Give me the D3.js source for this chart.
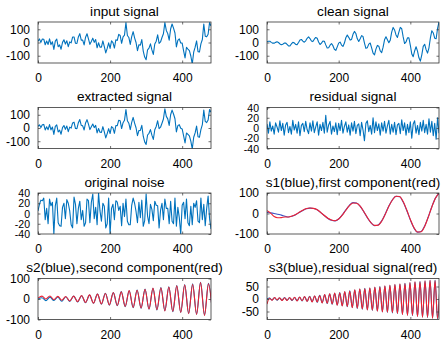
<!DOCTYPE html>
<html><head><meta charset="utf-8">
<script src="https://cdn.jsdelivr.net/npm/d3@7"></script>
<style>body{margin:0;background:#fff;} svg text{font-family:"Liberation Sans",Arial,Helvetica,sans-serif;fill:#000;}</style>
</head><body><svg id="chart" width="441" height="347"></svg>
<script>
// ---------- data ----------
const xTicks = [0, 200, 400];
const xDomain = [0, 480];

// step 4 samples (x = 0..480)
const inputSignal = [
 10, 27, 1, 26, 25, -17, 11, -15, 28, -16,
 5, -53, 10, 26, -32, -18, -51, 1, 21, -12,
 13, -31, 5, -3, 41, 42, -6, -7, 42, 67,
 18, 18, -18, 40, 66, 27, -14, 7, 33, 1,
 22, -40, -2, -35, -35, 12, -32, -79, -45, -3,
 -45, 13, -1, -42, 21, 16, 62, 53, -6, 43,
 56, 150, 53, 38, -14, 44, 82, 35, 0, -62,
 -17, -20, 22, -65, -110, -130, -55, -42, -10, -56,
 -90, -11, 10, 58, -7, 4, 38, 66, 150, 91,
 67, 18, 102, 140, 109, 72, -33, 16, 27, -4,
 -5, -64, -117, -36, -50, -61, -102, -163, -73, -35,
 12, -69, -72, -10, 23, 140, 48, 43, 62, 150,
 125];

const cleanSignal = [
 5, 9, 9, 1, -5, -5, 1, 5, 0, -11,
 -17, -13, -5, -4, -14, -26, -26, -11, 1, -2,
 -14, -16, 0, 19, 23, 10, 2, 13, 32, 43,
 30, 12, 7, 25, 38, 32, 4, -15, -5, 11,
 10, -18, -42, -40, -20, -8, -24, -51, -60, -33,
 -5, 3, -19, -30, -4, 36, 56, 39, 18, 23,
 62, 84, 68, 28, 8, 28, 52, 45, -4, -44,
 -39, -12, -4, -40, -80, -93, -50, -22, -28, -64,
 -76, -35, 20, 43, 21, -2, 18, 78, 114, 95,
 57, 38, 78, 114, 104, 42, -8, 4, 35, 36,
 -21, -86, -107, -64, -32, -65, -116, -141, -93, -29,
 -13, -54, -80, -40, 35, 89, 72, 33, 28, 106,
 155];

const extractedSignal = [
 12, 24, 3, 24, 27, -15, 9, -13, 26, -14,
 7, -48, 12, 24, -30, -16, -47, 3, 19, -10,
 15, -28, 7, -1, 38, 44, -4, -5, 40, 64,
 20, 16, -15, 38, 63, 29, -12, 9, 30, 3,
 20, -37, -4, -32, -33, 10, -30, -75, -42, -5,
 -42, 11, 1, -40, 19, 18, 59, 55, -4, 40,
 58, 140, 55, 36, -12, 42, 80, 37, 2, -58,
 -19, -18, 20, -62, -105, -125, -53, -40, -12, -54,
 -86, -13, 12, 55, -5, 6, 36, 68, 145, 88,
 69, 20, 100, 135, 106, 70, -30, 18, 25, -2,
 -7, -60, -113, -38, -48, -59, -100, -158, -70, -37,
 14, -66, -70, -12, 25, 135, 50, 41, 60, 140,
 120];

const residualSignal = [
 8, -10, 12, -6, 4, -12, 10, 2, -8, 14,
 -5, 9, -14, 6, 11, -9, 3, -12, 15, -4,
 7, -10, 12, -15, 5, 9, -7, 13, -3, -11,
 10, -6, 14, -9, 2, 12, -14, 7, -5, 11,
 -10, 25, -8, 6, 13, -12, 4, -7, 10, -13,
 9, -5, 15, -10, 3, 12, -8, 6, -14, 10,
 -6, 13, -11, 5, 8, -15, 11, -4, -25, 9,
 14, -7, 5, -12, 20, -9, 12, -5, 8, -14,
 10, -6, 13, -10, 4, 15, -12, 7, -8, 11,
 -13, 6, 9, -11, 16, -5, 10, -14, 7, -9,
 12, -20, 8, 14, -10, 5, -13, 11, -6, 15,
 -9, 7, -12, 18, -8, 13, -15, 9, -22, 20,
 -10];

const originalNoise = [
 5, 18, 26, 25, 30, -12, 10, -20, 28, 15,
 22, -40, 15, 30, -18, -24, -25, 12, 20, -10,
 27, 20, 5, -22, -28, 32, 18, -20, 10, 24,
 -12, 6, -25, -18, 28, 25, -18, 22, 38, -10,
 12, -22, 40, 5, -15, 20, 14, -28, -20, 30,
 -40, 10, 18, -12, 25, 22, 6, 14, -24, 20,
 -6, 28, -15, -22, -22, 16, 30, 20, 4, -18,
 22, -8, 26, -25, -14, 38, -5, -20, 18, 8,
 -14, 24, 16, 15, -28, 6, 20, -12, 28, 10,
 10, -20, 24, -15, -20, 30, -25, 12, -8, -40,
 16, 22, -10, 28, -18, -24, 14, -22, 20, 12,
 25, -15, -18, 30, -12, 18, -24, 10, 34, -10,
 -30];

// step 10 samples
const s1 = [
 5, 3, 0, -4, -8, -13, -17, -13, -6, 5,
 15, 23, 26, 24, 18, 4, -10, -24, -33, -36,
 -27, -7, 18, 40, 53, 51, 35, 9, -21, -45,
 -59, -56, -36, -2, 36, 67, 84, 82, 56, 15,
 -31, -70, -91, -88, -61, -17, 33, 75, 98];
const firstComponent = [
 14, 2, -15, -21, -20, -17, -17, -12, -5, 6,
 16, 24, 27, 25, 18, 5, -10, -23, -32, -35,
 -27, -8, 16, 38, 51, 50, 36, 10, -19, -44,
 -58, -57, -38, -4, 35, 66, 84, 83, 58, 17,
 -29, -69, -90, -89, -63, -18, 32, 74, 99];

// step 11 samples (peaks / troughs)
const s2 = [
 0, 6, -8, 9, -7, 10, -11, 11, -12, 14,
 -14, 16, -18, 19, -21, 24, -25, 28, -30, 31,
 -33, 36, -37, 40, -42, 44, -45, 48, -50, 52,
 -53, 56, -57, 60, -62, 66, -65, 70, -71, 74,
 -74, 82, -78, 76, -70];
const secondComponent = [
 4, 14, 0, 15, -3, 13, -6, 12, -10, 14,
 -13, 17, -17, 20, -20, 24, -24, 27, -29, 32,
 -32, 35, -36, 41, -41, 43, -44, 47, -49, 53,
 -52, 55, -58, 58, -61, 64, -66, 69, -72, 72,
 -75, 80, -80, 74, -68];

// step 7 samples (peaks / troughs)
const s3 = [
 0, 4, -4, 5, -5, 4, -5, 6, -5, 5,
 -6, 6, -7, 7, -8, 9, -9, 11, -11, 12,
 -13, 15, -15, 17, -18, 20, -21, 23, -24, 26,
 -27, 29, -31, 33, -34, 36, -38, 40, -41, 43,
 -43, 44, -46, 47, -48, 50, -51, 52, -54, 55,
 -56, 58, -59, 60, -61, 63, -64, 65, -66, 68,
 -69, 70, -72, 72, -74, 74, -76, 75, -80, 74];
const residualComponent = [
 -20, 3, -5, 6, -4, 5, -6, 5, -6, 6,
 -5, 7, -8, 8, -7, 10, -10, 10, -12, 13,
 -12, 14, -16, 18, -17, 21, -20, 24, -25, 25,
 -28, 30, -30, 32, -35, 37, -37, 41, -40, 42,
 -44, 45, -45, 48, -49, 49, -52, 53, -53, 56,
 -55, 59, -58, 61, -62, 62, -65, 66, -65, 69,
 -70, 69, -73, 73, -73, 75, -77, 74, -78, 70];

// ---------- drawing ----------
const BLUE = "#0072BD", S1BLUE = "#3a52c4", RED = "#EE2233";
const panels = [
 {title:"input signal", col:0, row:0, yDomain:[-155,155], yTicks:[-100,0,100],
  series:[{values:inputSignal, step:4, color:BLUE}]},
 {title:"clean signal", col:1, row:0, yDomain:[-155,155], yTicks:[-100,0,100],
  series:[{values:cleanSignal, step:4, color:BLUE}]},
 {title:"extracted signal", col:0, row:1, yDomain:[-155,155], yTicks:[-100,0,100],
  series:[{values:extractedSignal, step:4, color:BLUE}]},
 {title:"residual signal", col:1, row:1, yDomain:[-40,40], yTicks:[-40,-20,0,20,40], tickFont:10.5,
  series:[{values:residualSignal, step:4, color:BLUE}]},
 {title:"original noise", col:0, row:2, yDomain:[-40,40], yTicks:[-40,-20,0,20,40], tickFont:10.5,
  series:[{values:originalNoise, step:4, color:BLUE}]},
 {title:"s1(blue),first component(red)", col:1, row:2, yDomain:[-100,100], yTicks:[-100,0,100],
  series:[{values:s1, step:10, color:S1BLUE, curve:d3.curveMonotoneX},
          {values:firstComponent, step:10, color:RED, curve:d3.curveMonotoneX}]},
 {title:"s2(blue),second component(red)", col:0, row:3, yDomain:[-100,100], yTicks:[-100,0,100],
  series:[{values:s2, step:11, color:BLUE, curve:d3.curveMonotoneX},
          {values:secondComponent, step:11, color:RED, curve:d3.curveMonotoneX}]},
 {title:"s3(blue),residual signal(red)", col:1, row:3, yDomain:[-82,82], yTicks:[-50,0,50],
  series:[{values:s3, step:7, color:BLUE, curve:d3.curveMonotoneX},
          {values:residualComponent, step:7, color:RED, curve:d3.curveMonotoneX}]}
];

const svg = d3.select("#chart");
const colX = [38, 267], colW = [173, 172], rowY = [22, 107.5, 193, 278.5], boxH = 41;
const fmt = d => String(d);

panels.forEach((p, k) => {
  const x0 = colX[p.col], w = colW[p.col], y0 = rowY[p.row];
  const x = d3.scaleLinear().domain(xDomain).range([x0, x0 + w]);
  const y = d3.scaleLinear().domain(p.yDomain).range([y0 + boxH, y0]);
  const g = svg.append("g");
  const cid = "clip" + k;
  svg.append("clipPath").attr("id", cid).append("rect")
    .attr("x", x0).attr("y", y0).attr("width", w).attr("height", boxH);
  g.append("rect").attr("x", x0).attr("y", y0).attr("width", w).attr("height", boxH).attr("fill", "#fff");
  const lg = g.append("g").attr("clip-path", `url(#${cid})`);
  p.series.forEach(s => {
    const line = d3.line().x((d, i) => x(i * s.step)).y(d => y(d)).curve(s.curve || d3.curveLinear);
    lg.append("path").datum(s.values).attr("d", line).attr("fill", "none")
      .attr("stroke", s.color).attr("stroke-width", 1.1).attr("stroke-linejoin", "round");
  });
  const ax = g.append("g").attr("transform", `translate(0,${y0 + boxH})`)
    .call(d3.axisBottom(x).tickValues(xTicks).tickSizeInner(-2.5).tickSizeOuter(0).tickPadding(10.5).tickFormat(fmt));
  const ay = g.append("g").attr("transform", `translate(${x0},0)`)
    .call(d3.axisLeft(y).tickValues(p.yTicks).tickSizeInner(-2.5).tickSizeOuter(0).tickPadding(8).tickFormat(fmt));
  const axT = g.append("g").attr("transform", `translate(0,${y0})`)
    .call(d3.axisTop(x).tickValues(xTicks).tickSizeInner(-2.5).tickSizeOuter(0).tickFormat(""));
  const ayR = g.append("g").attr("transform", `translate(${x0 + w},0)`)
    .call(d3.axisRight(y).tickValues(p.yTicks).tickSizeInner(-2.5).tickSizeOuter(0).tickFormat(""));
  [ax, ay, axT, ayR].forEach(a => {
    a.select(".domain").remove();
    a.selectAll(".tick line").attr("stroke", "#333").attr("stroke-width", 0.7);
    a.selectAll("text").attr("font-size", 12).attr("font-family", '"Liberation Sans",Arial,sans-serif').attr("fill", "#000");
  });
  if (p.tickFont) ay.selectAll("text").attr("font-size", p.tickFont).attr("dy", "0.34em");
  g.append("rect").attr("x", x0).attr("y", y0).attr("width", w).attr("height", boxH)
    .attr("fill", "none").attr("stroke", "#333").attr("stroke-width", 0.8);
  g.append("text").attr("x", x0 + w / 2).attr("y", y0 - 6.5).attr("text-anchor", "middle")
    .attr("font-size", 13.6).text(p.title);
});
</script></body></html>
